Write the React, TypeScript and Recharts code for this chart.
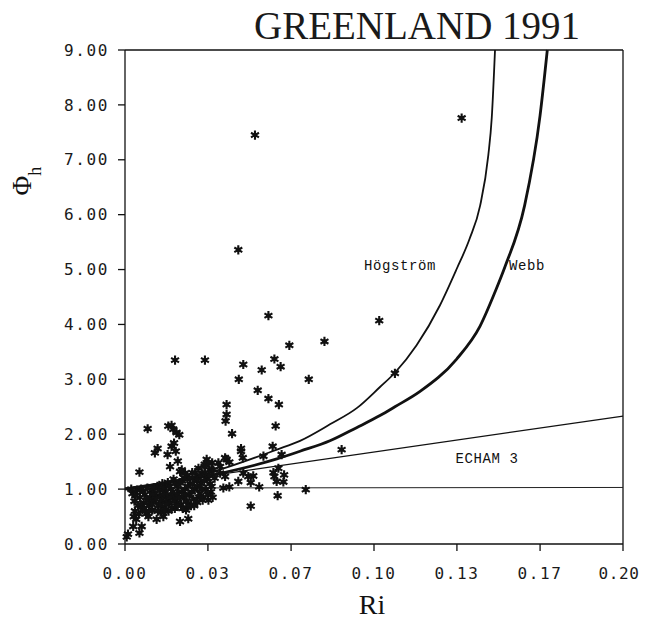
import React from "react";
import {
  ComposedChart,
  Scatter,
  Line,
  XAxis,
  YAxis,
  ReferenceLine,
  ReferenceDot,
} from "recharts";

// curves: [Ri, phi_h]
const hogstromCurve = [
  [0, 1.0], [0.0355, 1.32], [0.061, 1.72], [0.0703, 1.88], [0.0823, 2.18],
  [0.0932, 2.48], [0.1024, 2.86], [0.1084, 3.12], [0.1171, 3.62], [0.1265, 4.35],
  [0.1332, 5.01], [0.1384, 5.56], [0.1426, 6.16], [0.1459, 7.08], [0.1473, 7.77],
  [0.1486, 9.0],
];

const webbCurve = [
  [0, 1.0], [0.0355, 1.26], [0.061, 1.55], [0.0703, 1.69], [0.0823, 1.88],
  [0.093, 2.12], [0.1024, 2.34], [0.1084, 2.5], [0.1185, 2.78], [0.1332, 3.37],
  [0.1426, 3.97], [0.1486, 4.59], [0.1526, 5.05], [0.1605, 6.17], [0.1667, 7.81],
  [0.1696, 9.0],
];

const echamLine = [[0, 1.02], [0.2, 2.33]];
const neutralLine = [[0, 1.02], [0.2, 1.03]];

// dense cloud of measurements at small Ri
const clusterPoints = [
  [0.0007, 0.13], [0.0012, 0.18], [0.0033, 0.32], [0.0058, 0.2], [0.0067, 0.32],
  [0.0045, 0.45], [0.004, 0.6], [0.0052, 0.7], [0.0038, 0.78], [0.006, 0.85],
  [0.003, 0.92], [0.0048, 0.98], [0.007, 0.62], [0.0075, 0.75], [0.008, 0.9],
  [0.0065, 1.0], [0.0025, 1.0], [0.0085, 0.55], [0.0094, 0.5], [0.0096, 0.7],
  [0.01, 0.85], [0.0105, 0.98], [0.011, 0.62], [0.0115, 0.78], [0.012, 0.92],
  [0.0127, 0.45], [0.013, 1.05], [0.0135, 0.7], [0.014, 0.88], [0.0145, 0.58],
  [0.015, 1.1], [0.0148, 0.8], [0.0154, 0.5], [0.0158, 0.68], [0.0162, 0.95],
  [0.0168, 0.82], [0.0172, 1.12], [0.0175, 0.6], [0.018, 0.75], [0.0185, 1.0],
  [0.019, 0.88], [0.0195, 1.18], [0.02, 0.65], [0.0205, 0.8], [0.021, 1.05],
  [0.0215, 0.95], [0.0221, 0.41], [0.0225, 0.72], [0.023, 1.15], [0.0235, 0.85],
  [0.024, 1.0], [0.0245, 0.62], [0.025, 1.25], [0.0254, 0.46], [0.0248, 0.78],
  [0.0258, 0.9], [0.0262, 1.1], [0.0265, 0.7], [0.027, 1.3], [0.0275, 0.82],
  [0.028, 1.0], [0.0285, 1.2], [0.029, 0.76], [0.0295, 1.38], [0.03, 0.92],
  [0.0305, 1.1], [0.031, 1.28], [0.0315, 0.85], [0.032, 1.45], [0.0325, 1.0],
  [0.033, 1.18], [0.0335, 0.8], [0.034, 1.35], [0.0345, 0.95], [0.035, 1.48],
  [0.0342, 1.1], [0.0288, 1.17], [0.0328, 1.54], [0.0335, 1.48], [0.0348, 1.35],
  [0.0382, 1.41], [0.0408, 1.54], [0.0319, 1.41], [0.0375, 1.48], [0.0355, 1.35],
  [0.0382, 1.29], [0.036, 1.2],
  [0.0035, 0.5], [0.0042, 0.88], [0.0055, 0.55], [0.0062, 0.72], [0.0072, 0.95],
  [0.0078, 0.65], [0.0088, 0.8], [0.009, 1.02], [0.0098, 0.6], [0.0108, 0.72],
  [0.0112, 0.9], [0.0118, 1.02], [0.0125, 0.82], [0.0132, 0.6], [0.0138, 0.98],
  [0.0142, 0.72], [0.0152, 0.9], [0.0156, 1.02], [0.016, 0.6], [0.0165, 0.72],
  [0.017, 0.9], [0.0178, 1.05], [0.0182, 0.85], [0.0188, 0.65], [0.0192, 0.95],
  [0.0198, 0.78], [0.0202, 1.1], [0.0208, 0.9], [0.0212, 0.7], [0.0218, 0.85],
  [0.0222, 1.12], [0.0228, 0.95], [0.0232, 0.65], [0.0238, 1.2], [0.0242, 0.9],
  [0.0252, 1.05], [0.0256, 0.7], [0.026, 1.2], [0.0268, 0.95], [0.0272, 1.1],
  [0.0278, 0.7], [0.0282, 1.3], [0.0292, 1.05], [0.0298, 0.85], [0.0302, 1.25],
  [0.0308, 1.0], [0.0312, 0.8], [0.0318, 1.15], [0.0322, 1.3], [0.0332, 0.9],
  [0.0338, 1.25], [0.0348, 1.05], [0.0352, 0.85],
];

const scatterPoints = [
  [0.0091, 2.1], [0.0058, 1.31], [0.012, 1.66], [0.0131, 1.74], [0.0174, 2.15],
  [0.0187, 2.16], [0.0194, 2.09], [0.0207, 2.03], [0.0218, 1.99], [0.0197, 1.84],
  [0.0187, 1.78], [0.0204, 1.69], [0.0171, 1.63], [0.0212, 1.51], [0.0181, 1.41],
  [0.0221, 1.32], [0.0228, 1.35], [0.0241, 1.29],
  [0.0576, 4.16], [0.066, 3.62], [0.0801, 3.69], [0.0201, 3.35], [0.0321, 3.35],
  [0.0475, 3.27], [0.06, 3.37], [0.0625, 3.23], [0.0549, 3.17], [0.0457, 3.0],
  [0.0738, 3.0], [0.0533, 2.8], [0.0576, 2.65], [0.0618, 2.54], [0.0408, 2.54],
  [0.0408, 2.36], [0.0404, 2.24], [0.0605, 2.15], [0.043, 2.01], [0.087, 1.72],
  [0.0593, 1.78], [0.0629, 1.63], [0.0466, 1.74], [0.0466, 1.69], [0.0473, 1.57],
  [0.0556, 1.6], [0.0402, 1.57], [0.0419, 1.49], [0.0475, 1.29], [0.0495, 1.23],
  [0.0515, 1.24], [0.0455, 1.14], [0.0505, 1.12], [0.0539, 1.04], [0.0616, 1.38],
  [0.0596, 1.3], [0.06, 1.23], [0.0639, 1.26], [0.0609, 1.14], [0.0636, 1.13],
  [0.0613, 0.88], [0.0505, 0.69], [0.0726, 0.99], [0.0395, 1.02], [0.0419, 1.04],
  [0.0402, 1.23], [0.0522, 7.45], [0.0455, 5.36], [0.1021, 4.07], [0.1352, 7.76],
  [0.1084, 3.11],
];

const xTicks = [0, 0.0333, 0.0667, 0.1, 0.1333, 0.1667, 0.2];
const xTickLabels = ["0.00", "0.03", "0.07", "0.10", "0.13", "0.17", "0.20"];
const yTicks = [0, 1, 2, 3, 4, 5, 6, 7, 8, 9];

const toRows = (pairs: number[][]) => pairs.map(([ri, phi]) => ({ ri, phi }));

const tickFont = {
  fontFamily: "DejaVu Sans Mono",
  fontSize: 16,
  fill: "#1a1a1a",
  letterSpacing: 1.6,
};

// x tick: the last label is kept inside the page edge
const XTick = (props: any) => {
  const { x, y, payload, index } = props;
  const last = index === xTicks.length - 1;
  const label = xTickLabels[xTicks.indexOf(payload.value)] ?? payload.value.toFixed(2);
  return (
    <text
      x={last ? x - 4 : x}
      y={y + 6}
      textAnchor="middle"
      dominantBaseline="central"
      fontFamily={tickFont.fontFamily}
      fontSize={tickFont.fontSize}
      fill={tickFont.fill}
      letterSpacing={last ? 0.6 : tickFont.letterSpacing}
    >
      {label}
    </text>
  );
};

const Star = (props: any) => {
  const { cx, cy } = props;
  if (cx == null || cy == null) return null;
  const r = 4.6;
  const d = [0, 60, 120]
    .map((a) => {
      const t = (a * Math.PI) / 180 + Math.PI / 2;
      const dx = r * Math.cos(t);
      const dy = r * Math.sin(t);
      return `M${cx - dx},${cy - dy}L${cx + dx},${cy + dy}`;
    })
    .join("");
  return (
    <g>
      <path d={d} stroke="#111" strokeWidth={2.1} />
      <circle cx={cx} cy={cy} r={2.2} fill="#111" />
    </g>
  );
};

const CurveLabel = (props: any) => {
  const { viewBox, text } = props;
  if (!viewBox) return null;
  return (
    <text
      x={viewBox.x + (viewBox.width || 0) / 2}
      y={viewBox.y + (viewBox.height || 0) / 2}
      textAnchor="middle"
      dominantBaseline="central"
      fontFamily="Liberation Mono"
      fontSize={14}
      letterSpacing={0.6}
      fill="#111"
    >
      {text}
    </text>
  );
};

export default function App() {
  return (
    <div style={{ width: 634, height: 613 }}>
      <ComposedChart
        width={634}
        height={613}
        margin={{ top: 42, right: 19, bottom: 0, left: 0 }}
      >
        <XAxis
          dataKey="ri"
          type="number"
          domain={[0, 0.2]}
          ticks={xTicks}
          height={77}
          tickSize={7}
          tickMargin={16}
          tick={<XTick />}
          stroke="#111"
          strokeWidth={1.3}
          interval={0}
        />
        <YAxis
          dataKey="phi"
          type="number"
          domain={[0, 9]}
          ticks={yTicks}
          tickFormatter={(v: number) => v.toFixed(2)}
          width={117}
          tickSize={7}
          tickMargin={9}
          tick={tickFont}
          stroke="#111"
          strokeWidth={1.3}
          interval={0}
        />
        <ReferenceLine y={9} stroke="#111" strokeWidth={1.3} />
        <ReferenceLine x={0.2} stroke="#111" strokeWidth={1.3} />
        <Scatter
          data={toRows(clusterPoints)}
          shape={<Star />}
          isAnimationActive={false}
        />
        <Scatter
          data={toRows(scatterPoints)}
          shape={<Star />}
          isAnimationActive={false}
        />
        <Line
          data={toRows(neutralLine)}
          dataKey="phi"
          type="linear"
          stroke="#222"
          strokeWidth={1}
          dot={false}
          isAnimationActive={false}
        />
        <Line
          data={toRows(echamLine)}
          dataKey="phi"
          type="linear"
          stroke="#111"
          strokeWidth={1.2}
          dot={false}
          isAnimationActive={false}
        />
        <Line
          data={toRows(hogstromCurve)}
          dataKey="phi"
          type="monotone"
          stroke="#111"
          strokeWidth={1.8}
          dot={false}
          isAnimationActive={false}
        />
        <Line
          data={toRows(webbCurve)}
          dataKey="phi"
          type="monotone"
          stroke="#111"
          strokeWidth={2.8}
          dot={false}
          isAnimationActive={false}
        />
        <ReferenceDot x={0.1104} y={5.07} r={0} fill="none" stroke="none" label={<CurveLabel text="Högström" />} />
        <ReferenceDot x={0.1614} y={5.07} r={0} fill="none" stroke="none" label={<CurveLabel text="Webb" />} />
        <ReferenceDot x={0.1454} y={1.54} r={0} fill="none" stroke="none" label={<CurveLabel text="ECHAM 3" />} />
        <text
          x={246}
          y={31}
          fontFamily="Liberation Serif"
          fontSize={39}
          fill="#1a1a1a"
        >
          GREENLAND 1991
        </text>
        <text
          transform="translate(23,173) rotate(-90)"
          textAnchor="middle"
          fontFamily="Liberation Serif"
          fill="#111"
        >
          <tspan fontSize={27}>Φ</tspan>
          <tspan fontSize={18} dy={10}>h</tspan>
        </text>
        <text
          x={364}
          y={606}
          textAnchor="middle"
          fontFamily="Liberation Serif"
          fontSize={28}
          fill="#111"
        >
          Ri
        </text>
      </ComposedChart>
    </div>
  );
}
